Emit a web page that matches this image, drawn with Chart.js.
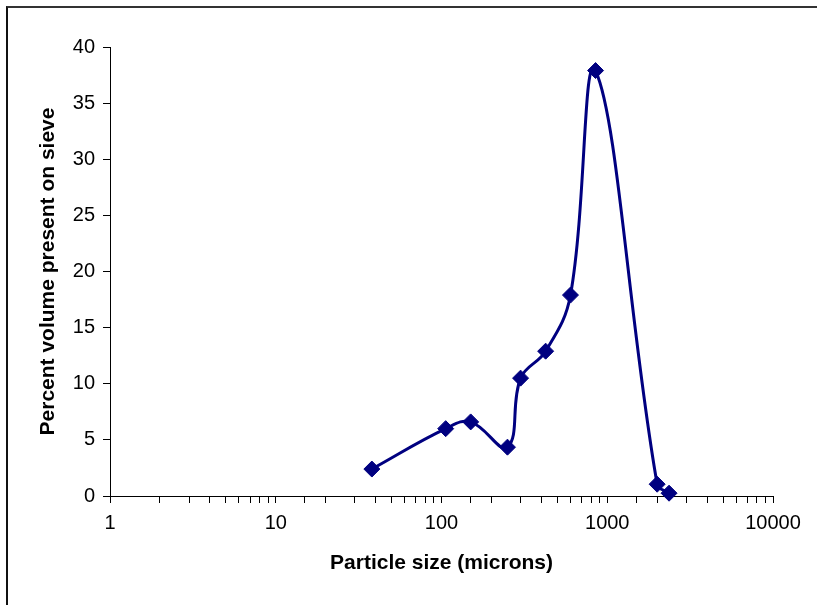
<!DOCTYPE html>
<html>
<head>
<meta charset="utf-8">
<script src="https://cdn.jsdelivr.net/npm/chart.js@4/dist/chart.umd.min.js"></script>
<style>
  html, body { margin: 0; padding: 0; background: #fff; }
  #wrap { position: relative; width: 817px; height: 605px; }
  #frame {
    position: absolute; left: 6px; top: 6px; right: 0; bottom: 0;
    border-top: 2px solid #333; border-left: 2px solid #111;
    pointer-events: none;
  }
  canvas { position: absolute; left: 0; top: 0; }
</style>
</head>
<body>
<div id="wrap">
  <canvas id="chart" width="817" height="605"></canvas>
  <div id="frame"></div>
</div>
<script>
const sizes = [38, 106, 150, 250, 300, 425, 600, 850, 2000, 2360];
const percent = [2.4, 6.0, 6.6, 4.35, 10.5, 12.9, 17.9, 37.9, 1.05, 0.25];
const xTickLabels = [1, 10, 100, 1000, 10000];
const yTicks = [0, 5, 10, 15, 20, 25, 30, 35, 40];

const NAVY = '#000080';
const FONT = '"Liberation Sans", Arial, sans-serif';

new Chart(document.getElementById('chart'), {
  type: 'line',
  data: {
    datasets: [{
      data: sizes.map((s, i) => ({ x: s, y: percent[i] })),
      borderColor: NAVY,
      backgroundColor: NAVY,
      borderWidth: 3,
      tension: 0.4,
      pointStyle: 'rectRot',
      pointRadius: 8,
      pointHoverRadius: 8,
      pointBorderWidth: 1,
      clip: false,
    }],
  },
  options: {
    responsive: false,
    animation: false,
    layout: { padding: { left: 0, top: 47, right: 44, bottom: 0 } },
    plugins: { legend: { display: false }, tooltip: { enabled: false } },
    scales: {
      x: {
        type: 'logarithmic',
        min: 1,
        max: 10000,
        border: { color: '#000', width: 1 },
        grid: { drawOnChartArea: false, tickLength: 7, color: '#000', tickColor: '#000' },
        ticks: {
          autoSkip: false,
          maxRotation: 0,
          padding: 8,
          color: '#000',
          font: { family: FONT, size: 20 },
          callback: (v) => (xTickLabels.includes(v) ? String(v) : ''),
        },
        title: {
          display: true,
          text: 'Particle size (microns)',
          color: '#000',
          font: { family: FONT, size: 21, weight: 'bold' },
          padding: { top: 0, bottom: 29 },
        },
        afterFit: (scale) => { scale.height = 109; },
      },
      y: {
        min: 0,
        max: 40,
        border: { color: '#000', width: 1 },
        grid: { drawOnChartArea: false, tickLength: 7, color: '#000', tickColor: '#000' },
        afterBuildTicks: (scale) => { scale.ticks = yTicks.map((v) => ({ value: v })); },
        ticks: {
          padding: 8,
          color: '#000',
          font: { family: FONT, size: 20 },
        },
        title: {
          display: true,
          text: 'Percent volume present on sieve',
          color: '#000',
          font: { family: FONT, size: 21, weight: 'bold' },
          padding: { top: 36, bottom: 0 },
        },
        afterFit: (scale) => { scale.width = 110; },
      },
    },
  },
});
</script>
</body>
</html>
